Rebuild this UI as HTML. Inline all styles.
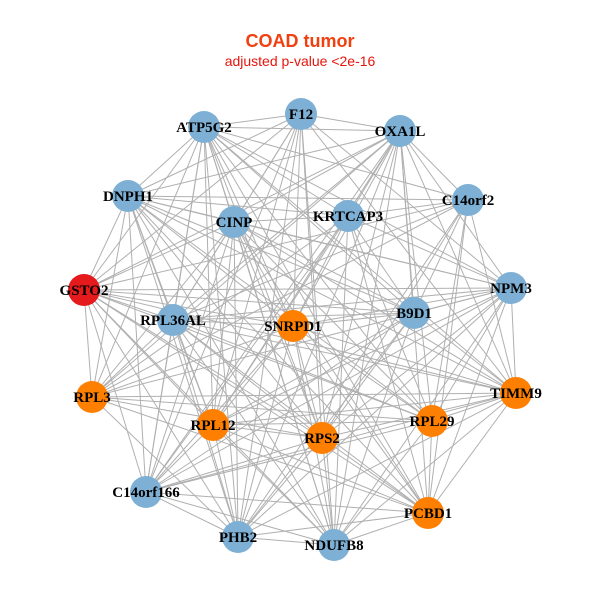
<!DOCTYPE html>
<html><head><meta charset="utf-8"><style>
html,body{margin:0;padding:0;background:#fff;width:600px;height:600px;overflow:hidden}
</style></head><body>
<svg id="s" width="600" height="600" xmlns="http://www.w3.org/2000/svg">
<text x="300" y="47" text-anchor="middle" font-family="Liberation Sans, sans-serif" font-weight="bold" font-size="18" fill="#f04010">COAD tumor</text>
<text x="300" y="66" text-anchor="middle" font-family="Liberation Sans, sans-serif" font-size="14" fill="#e8140c">adjusted p-value &lt;2e-16</text>
<g id="e" stroke="#b0b0b0" stroke-width="1"></g>
<g id="n"></g>
</svg>
<script>
var N=[["F12",301,114,"b"],["ATP5G2",204,127,"b"],["OXA1L",400,131,"b"],["C14orf2",468,200,"b"],["DNPH1",128,196,"b"],["CINP",234,222,"b"],["KRTCAP3",348,216,"b"],["GSTO2",84,290,"r"],["NPM3",511,288,"b"],["B9D1",414,313,"b"],["RPL36AL",173,320,"b"],["SNRPD1",293,326,"o"],["RPL3",92,397,"o"],["TIMM9",516,393,"o"],["RPL12",213,425,"o"],["RPL29",432,421,"o"],["RPS2",322,438,"o"],["C14orf166",146,492,"b"],["PCBD1",428,513,"o"],["PHB2",238,537,"b"],["NDUFB8",334,545,"b"]];
var C={b:"#7eb0d5",o:"#ff8000",r:"#e41a1c"};
var ns="http://www.w3.org/2000/svg",E=document.getElementById("e"),G=document.getElementById("n");
for(var i=0;i<N.length;i++)for(var j=i+1;j<N.length;j++){if((i*7+j*3)%9==0)continue;var l=document.createElementNS(ns,"line");l.setAttribute("x1",N[i][1]);l.setAttribute("y1",N[i][2]);l.setAttribute("x2",N[j][1]);l.setAttribute("y2",N[j][2]);E.appendChild(l);}
N.forEach(function(d){var c=document.createElementNS(ns,"circle");c.setAttribute("cx",d[1]);c.setAttribute("cy",d[2]);c.setAttribute("r",16);c.setAttribute("fill",C[d[3]]);G.appendChild(c);});
N.forEach(function(d){var t=document.createElementNS(ns,"text");t.setAttribute("x",d[1]);t.setAttribute("y",d[2]+5);t.setAttribute("text-anchor","middle");t.setAttribute("font-family","Liberation Serif, serif");t.setAttribute("font-weight","bold");t.setAttribute("font-size","15");t.textContent=d[0];G.appendChild(t);});
</script>
</body></html>
